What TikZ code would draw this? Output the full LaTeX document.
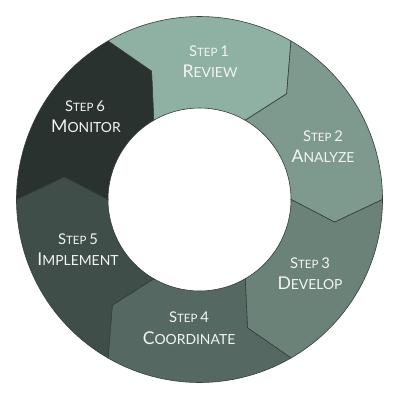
\documentclass[tikz,border=0pt]{standalone}
\usepackage{fontspec}
\setmainfont{Lato}
\definecolor{cA}{HTML}{8FB1A3}
\definecolor{cB}{HTML}{7E9A8E}
\definecolor{cC}{HTML}{6A8278}
\definecolor{cD}{HTML}{556962}
\definecolor{cE}{HTML}{3F4E48}
\definecolor{cF}{HTML}{29322F}
\definecolor{edge}{HTML}{353D3A}
\definecolor{txt}{HTML}{F4F4F4}
\newcommand\stepline[1]{{\fontsize{14.8}{16}\selectfont S}{\fontsize{11.5}{16}\selectfont TEP }{\fontsize{14.8}{16}\selectfont #1}}
\newcommand\titleline[2]{{\fontsize{17.6}{20}\selectfont #1}{\fontsize{13.9}{20}\selectfont #2}}
\tikzset{
  seg/.style={draw=edge, line width=0.6pt, line join=miter},
  lbl/.style={text=txt, inner sep=0pt, anchor=center}
}
\begin{document}
\begin{tikzpicture}[x=1pt,y=1pt]
\useasboundingbox (0,0) rectangle (400,-400);
\fill[white] (0,0) rectangle (400,-400);
\begin{scope}[shift={(199.5,-199.5)}]
\foreach \i/\c in {0/cA,1/cB,2/cC,3/cD,4/cE,5/cF}{
  \pgfmathsetmacro\a{120-60*\i}
  \pgfmathsetmacro\b{\a-60}
  \pgfmathsetmacro\av{\a-9.5}
  \pgfmathsetmacro\bv{\b-9.5}
  \filldraw[seg, fill=\c] (\a:183) arc[start angle=\a, end angle=\b, radius=183pt]
     -- (\bv:137) -- (\b:91.5) arc[start angle=\b, end angle=\a, radius=91.5pt]
     -- (\av:137) -- cycle;
}
\end{scope}
\node[lbl] (s1) at (209,-51) {\stepline{1}};
\node[lbl] (t1) at (210,-71) {\titleline{R}{EVIEW}};
\node[lbl] (s2) at (323,-136) {\stepline{2}};
\node[lbl] (t2) at (323,-156) {\titleline{A}{NALYZE}};
\node[lbl] (s3) at (310,-263) {\stepline{3}};
\node[lbl] (t3) at (310,-283) {\titleline{D}{EVELOP}};
\node[lbl] (s4) at (189,-317) {\stepline{4}};
\node[lbl] (t4) at (189,-338) {\titleline{C}{OORDINATE}};
\node[lbl] (s5) at (78,-239) {\stepline{5}};
\node[lbl] (t5) at (78,-259) {\titleline{I}{MPLEMENT}};
\node[lbl] (s6) at (85,-106) {\stepline{6}};
\node[lbl] (t6) at (86,-126) {\titleline{M}{ONITOR}};
\end{tikzpicture}
\end{document}
